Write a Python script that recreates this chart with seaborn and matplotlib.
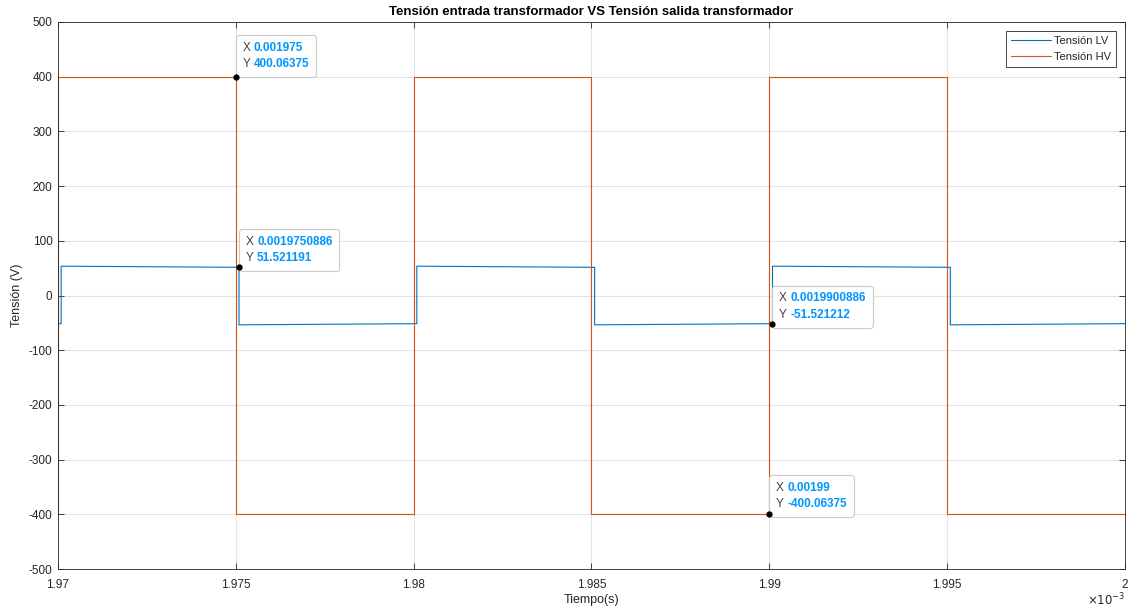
import numpy as np
import pandas as pd
import matplotlib
matplotlib.use("Agg")
import matplotlib.pyplot as plt
import seaborn as sns
from matplotlib.lines import Line2D
from matplotlib.offsetbox import TextArea, HPacker, VPacker, AnnotationBbox

# ---- waveform data (time in seconds, voltage in volts) ----
t_first = 1.965e-3
t_last = 2.000e-3

# High-voltage side: switching instants and the level held after each one
hv_switch_t = [1.970e-3, 1.975e-3, 1.980e-3, 1.985e-3, 1.990e-3, 1.995e-3]
hv_levels = [400.06375, -400.06375, 400.06375, -400.06375, 400.06375, -400.06375]
hv_initial = -400.06375

# Low-voltage side: switching instants, level right after each edge and level just before the next edge
lv_switch_t = [1.9700886e-3, 1.9750886e-3, 1.9800886e-3, 1.9850886e-3, 1.9900886e-3, 1.9950886e-3]
lv_start = [53.6, -53.6, 53.6, -53.6, 53.6, -53.6]
lv_end = [51.521191, -51.521212, 51.521191, -51.521212, 51.521191, -51.521212]
lv_initial = -51.521212

# Data tips: (x, y, x label, y label, box offset in points)
tips = [
    (0.001975, 400.06375, "0.001975", "400.06375", (5.0, 5.0)),
    (0.0019750886, 51.521191, "0.0019750886", "51.521191", (5.0, 2.2)),
    (0.0019900886, -51.521212, "0.0019900886", "-51.521212", (5.0, 2.2)),
    (0.00199, -400.06375, "0.00199", "-400.06375", (5.0, 2.9)),
]

x_ticks = [1.970e-3, 1.975e-3, 1.980e-3, 1.985e-3, 1.990e-3, 1.995e-3, 2.000e-3]
y_ticks = list(range(-500, 501, 100))


def square_wave(switch_t, start_vals, end_vals, initial):
    t = [t_first]
    v = [initial]
    for i, ts in enumerate(switch_t):
        t += [ts, ts]
        v += [v[-1], start_vals[i]]
        t_next = switch_t[i + 1] if i + 1 < len(switch_t) else t_last
        t.append(t_next)
        v.append(end_vals[i])
    return t, v


t_lv, v_lv = square_wave(lv_switch_t, lv_start, lv_end, lv_initial)
t_hv, v_hv = square_wave(hv_switch_t, hv_levels, hv_levels, hv_initial)

df = pd.concat([
    pd.DataFrame({"t": t_lv, "v": v_lv, "serie": "Tensión LV"}),
    pd.DataFrame({"t": t_hv, "v": v_hv, "serie": "Tensión HV"}),
], ignore_index=True)

sns.set_style("ticks")
plt.rcParams["font.family"] = ["Liberation Sans", "DejaVu Sans"]

TXT = "#262626"
C_LV = "#0072BD"
C_HV = "#D95319"
fig = plt.figure(figsize=(11.3, 6.09), dpi=100)
ax = fig.add_axes([58 / 1130, 1 - 569 / 609, (1125 - 58) / 1130, (569 - 22) / 609])

sns.lineplot(data=df, x="t", y="v", hue="serie", sort=False, estimator=None,
             palette=[C_LV, C_HV], linewidth=0.8, ax=ax, legend=False)

ax.set_xlim(1.97e-3, 2.0e-3)
ax.set_ylim(-500, 500)
ax.set_xticks(x_ticks)
ax.set_xticklabels(["{:g}".format(round(v * 1e3, 6)) for v in x_ticks])
ax.set_yticks(y_ticks)
ax.set_yticklabels([str(v) for v in y_ticks])
ax.grid(True, color="#e3e3e3", linewidth=0.8)
ax.set_axisbelow(True)
ax.tick_params(direction="in", length=4, width=0.6, colors=TXT, labelsize=8.5,
               top=True, right=True)
ax.tick_params(axis="x", pad=7)
ax.tick_params(axis="y", pad=4)
for s in ax.spines.values():
    s.set_color(TXT)
    s.set_linewidth(0.6)

ax.set_xlabel("Tiempo(s)", fontsize=9, color=TXT, labelpad=2)
ax.set_ylabel("Tensión (V)", fontsize=9, color=TXT, labelpad=4)
ax.set_title("Tensión entrada transformador VS Tensión salida transformador",
             fontsize=9.5, fontweight="bold", color="black", pad=5)
ax.text(1.0, -0.067, r"$\times10^{-3}$", transform=ax.transAxes, ha="right", va="baseline",
        fontsize=8.5, color=TXT)

handles = [Line2D([], [], color=C_LV, lw=0.8), Line2D([], [], color=C_HV, lw=0.8)]
leg = ax.legend(handles, ["Tensión LV", "Tensión HV"], loc="upper right", fontsize=8,
                frameon=True, fancybox=False, framealpha=1, edgecolor=TXT,
                handlelength=3.6, handletextpad=0.3, borderpad=0.45, labelspacing=0.55,
                borderaxespad=0.8)
leg.get_frame().set_linewidth(0.6)

# Data tips
for x, y, xs, ys, off in tips:
    rx = HPacker(children=[TextArea("X ", textprops=dict(color="#404040", size=8.5)),
                           TextArea(xs, textprops=dict(color="#0096ff", size=8.5, weight="bold"))],
                 pad=0, sep=0, align="baseline")
    ry = HPacker(children=[TextArea("Y ", textprops=dict(color="#404040", size=8.5)),
                           TextArea(ys, textprops=dict(color="#0096ff", size=8.5, weight="bold"))],
                 pad=0, sep=0, align="baseline")
    box = VPacker(children=[rx, ry], align="left", pad=0, sep=3)
    ab = AnnotationBbox(box, (x, y), xybox=off, xycoords="data",
                        boxcoords="offset points", box_alignment=(0, 0), pad=0.5,
                        bboxprops=dict(boxstyle="round,pad=0.5,rounding_size=0.2",
                                       fc="white", ec="#c8c8c8", lw=0.8, alpha=0.95),
                        zorder=6)
    ax.add_artist(ab)
    ax.plot([x], [y], "o", color="black", markersize=3.5, zorder=8)

fig.savefig("out.png", dpi=100)
